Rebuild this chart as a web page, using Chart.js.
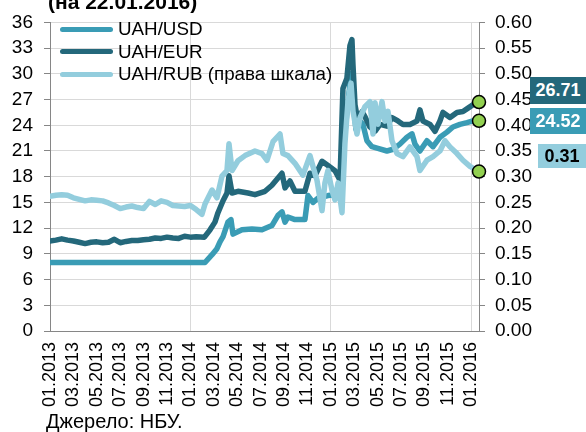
<!DOCTYPE html>
<html>
<head>
<meta charset="utf-8">
<script src="https://cdn.jsdelivr.net/npm/chart.js@4/dist/chart.umd.min.js"></script>
<style>
  body { margin: 0; background: #fff; }
  #wrap { position: relative; width: 586px; height: 432px; overflow: hidden; font-family: "Liberation Sans", Arial, sans-serif; color: #000; }
  #chart { position: absolute; left: 0; top: 0; }
  .title { position: absolute; left: 48px; top: -9px; font-size: 21px; font-weight: bold; line-height: 21px; white-space: nowrap; }
  .legend { position: absolute; left: 60px; top: 18px; font-size: 18.8px; line-height: 22.5px; }
  .legend div { display: flex; align-items: center; white-space: nowrap; }
  .legend span.swatch { display: inline-block; width: 53px; height: 5px; border-radius: 3px; margin-right: 5px; }
  .source { position: absolute; left: 46px; top: 410px; font-size: 20px; white-space: nowrap; }
  .tag { position: absolute; font-size: 18px; font-weight: bold; text-align: center; }
</style>
</head>
<body>
<div id="wrap">
  <canvas id="chart" width="586" height="432"></canvas>
  <div class="title">(на 22.01.2016)</div>
  <div class="legend" id="legend"></div>
  <div class="source">Джерело: НБУ.</div>
  <div class="tag" id="tag-eur" style="left:530px; top:77px; width:56px; height:27px; line-height:27px; background:#24687b; color:#fff;"></div>
  <div class="tag" id="tag-usd" style="left:530px; top:108px; width:56px; height:26px; line-height:26px; background:#3a9cb5; color:#fff;"></div>
  <div class="tag" id="tag-rub" style="left:538px; top:144px; width:48px; height:24px; line-height:24px; background:#93cddd; color:#000;"></div>
</div>
<script>
// x = months since 01.2013
const tickLabels = ['01.2013', '03.2013', '05.2013', '07.2013', '09.2013', '11.2013',
  '01.2014', '03.2014', '05.2014', '07.2014', '09.2014', '11.2014',
  '01.2015', '03.2015', '05.2015', '07.2015', '09.2015', '11.2015', '01.2016'];

const usd = [[0, 7.99], [3, 7.99], [6, 7.99], [9, 7.99], [12, 7.99], [13.25, 7.99], [13.85, 8.9], [14.27, 9.6],
  [14.53, 10.4], [14.79, 11.0], [15.21, 12.7], [15.47, 13.0], [15.64, 11.3], [16.41, 11.8], [17.26, 11.9],
  [18.12, 11.8], [18.97, 12.3], [19.49, 13.5], [19.83, 13.9], [20.09, 12.7], [20.34, 13.3], [20.94, 13.0],
  [21.79, 13.0], [22.05, 15.8], [22.48, 15.0], [22.91, 15.5], [23.76, 15.8], [24.36, 15.9], [24.87, 16.0],
  [25.13, 22.0], [25.38, 25.5], [25.73, 30.0], [25.9, 27.0], [26.15, 23.5], [26.5, 24.5], [26.75, 24.1],
  [27.09, 22.2], [27.52, 21.5], [28.03, 21.3], [28.8, 21.0], [29.32, 21.2], [29.91, 21.8], [30.51, 22.6],
  [30.94, 23.0], [31.2, 21.8], [31.62, 21.0], [32.22, 22.2], [32.74, 21.5], [33.33, 22.6], [33.93, 23.2],
  [34.44, 23.8], [35.04, 24.1], [35.64, 24.3], [36.15, 24.5], [36.67, 24.52]];

const eur = [[0, 10.5], [0.5, 10.6], [1, 10.75], [1.5, 10.6], [2, 10.5], [2.5, 10.35], [3, 10.2], [3.5, 10.35],
  [4, 10.4], [4.5, 10.3], [5, 10.35], [5.5, 10.7], [6, 10.3], [6.5, 10.45], [7, 10.55], [7.5, 10.55], [8, 10.65],
  [8.5, 10.7], [9, 10.85], [9.5, 10.8], [10, 10.95], [10.5, 10.85], [11, 10.8], [11.5, 11.05], [12, 10.95],
  [12.5, 11.0], [13.2, 10.95], [13.68, 11.8], [14.1, 12.7], [14.36, 13.8], [14.79, 15.2], [15.13, 16.1],
  [15.3, 18.1], [15.56, 16.1], [16.07, 16.3], [16.92, 16.1], [17.52, 15.9], [18.38, 16.3], [18.97, 17.0],
  [19.83, 18.4], [20.09, 16.7], [20.51, 17.5], [20.94, 16.3], [21.79, 16.3], [22.22, 18.4], [22.65, 18.1],
  [23.25, 19.8], [23.76, 19.3], [24.36, 18.7], [24.79, 17.6], [25.04, 28.3], [25.38, 29.5], [25.64, 33.3],
  [25.81, 34.0], [25.9, 31.0], [26.07, 26.4], [26.32, 24.5], [26.67, 25.6], [26.92, 25.0], [27.35, 23.8],
  [27.78, 23.3], [28.21, 24.1], [28.8, 23.9], [29.23, 24.9], [29.74, 24.5], [30.17, 24.1], [30.77, 24.1],
  [31.37, 24.5], [31.62, 25.8], [31.88, 24.5], [32.48, 24.1], [32.91, 23.3], [33.33, 24.5], [33.59, 25.5],
  [34.19, 24.9], [34.79, 25.5], [35.3, 25.6], [35.73, 26.0], [36.15, 26.4], [36.67, 26.71]];

const rub = [[0, 0.262], [0.5, 0.264], [1, 0.265], [1.5, 0.264], [2, 0.259], [2.5, 0.256], [3, 0.253], [3.5, 0.255],
  [4, 0.254], [4.5, 0.253], [5, 0.249], [5.5, 0.244], [6, 0.238], [6.5, 0.241], [7, 0.243], [7.5, 0.240],
  [8, 0.238], [8.5, 0.252], [9, 0.246], [9.5, 0.253], [10, 0.250], [10.5, 0.244], [11, 0.243], [11.5, 0.242],
  [12, 0.244], [12.5, 0.236], [12.99, 0.227], [13.25, 0.247], [13.85, 0.274], [14.27, 0.259], [14.7, 0.301],
  [15.13, 0.312], [15.3, 0.364], [15.56, 0.312], [16.07, 0.331], [16.67, 0.341], [17.52, 0.350], [18.12, 0.345],
  [18.55, 0.332], [19.06, 0.368], [19.66, 0.383], [19.91, 0.345], [20.34, 0.341], [20.94, 0.326], [21.62, 0.303],
  [22.22, 0.341], [22.48, 0.320], [22.82, 0.293], [23.25, 0.234], [23.5, 0.288], [23.76, 0.312], [24.1, 0.274],
  [24.36, 0.255], [24.62, 0.288], [24.96, 0.230], [25.21, 0.364], [25.47, 0.446], [25.73, 0.482], [25.9, 0.427],
  [26.24, 0.383], [26.5, 0.415], [26.92, 0.436], [27.35, 0.446], [27.61, 0.383], [27.78, 0.444], [28.03, 0.402],
  [28.38, 0.446], [28.63, 0.408], [28.89, 0.427], [29.23, 0.370], [29.66, 0.345], [30.17, 0.339], [30.77, 0.358],
  [31.37, 0.339], [31.62, 0.312], [32.22, 0.332], [32.74, 0.339], [33.33, 0.350], [33.76, 0.370], [34.19, 0.358],
  [34.79, 0.345], [35.3, 0.332], [35.9, 0.320], [36.67, 0.31]];

const colors = { usd: '#3a9cb5', eur: '#24687b', rub: '#93cddd' };
const legendNames = ['UAH/USD', 'UAH/EUR', 'UAH/RUB (права шкала)'];

const toPoints = arr => arr.map(p => ({ x: p[0], y: p[1] }));
const last = arr => arr[arr.length - 1];

function lineSet(label, arr, color, axis, order) {
  return {
    label: label,
    data: toPoints(arr),
    yAxisID: axis,
    borderColor: color,
    backgroundColor: color,
    borderWidth: 5.5,
    pointRadius: 0,
    tension: 0,
    borderJoinStyle: 'round',
    borderCapStyle: 'round',
    order: order
  };
}

function markerSet(arr, axis) {
  const p = last(arr);
  return {
    data: [{ x: p[0], y: p[1] }],
    yAxisID: axis,
    showLine: false,
    pointRadius: 6.5,
    pointBackgroundColor: '#92d050',
    pointBorderColor: '#000',
    pointBorderWidth: 1.5,
    clip: false,
    order: 0
  };
}

// legend + value tags
const legend = document.getElementById('legend');
[colors.usd, colors.eur, colors.rub].forEach((c, i) => {
  const row = document.createElement('div');
  row.innerHTML = `<span class="swatch" style="background:${c}"></span>${legendNames[i]}`;
  legend.appendChild(row);
});
document.getElementById('tag-eur').textContent = last(eur)[1].toFixed(2);
document.getElementById('tag-usd').textContent = last(usd)[1].toFixed(2);
document.getElementById('tag-rub').textContent = last(rub)[1].toFixed(2);

Chart.defaults.font.family = '"Liberation Sans", Arial, sans-serif';
Chart.defaults.font.size = 19;
Chart.defaults.color = '#000';

new Chart(document.getElementById('chart'), {
  type: 'line',
  data: {
    datasets: [
      lineSet(legendNames[0], usd, colors.usd, 'y', 3),
      lineSet(legendNames[1], eur, colors.eur, 'y', 2),
      lineSet(legendNames[2], rub, colors.rub, 'y1', 1),
      markerSet(eur, 'y'),
      markerSet(usd, 'y'),
      markerSet(rub, 'y1')
    ]
  },
  options: {
    responsive: false,
    animation: false,
    devicePixelRatio: 1,
    layout: { padding: { top: 16 } },
    plugins: { legend: { display: false }, tooltip: { enabled: false } },
    scales: {
      x: {
        type: 'linear',
        min: 0,
        max: 36.67,
        afterFit: s => { s.height = 101; },
        grid: {
          color: ctx => (ctx.tick && ctx.tick.value > 0 && ctx.tick.value % 12 === 0) ? '#d9d9d9' : 'rgba(0,0,0,0)',
          drawTicks: false
        },
        border: { color: '#868686', width: 1 },
        ticks: {
          font: { size: 18 },
          stepSize: 2,
          includeBounds: false,
          autoSkip: false,
          maxRotation: 90,
          minRotation: 90,
          padding: 11,
          callback: v => tickLabels[Math.round(v / 2)]
        }
      },
      y: {
        position: 'left',
        min: 0,
        max: 36,
        afterFit: s => { s.width = 50; },
        grid: { color: '#d9d9d9', tickColor: '#868686', tickLength: 6 },
        border: { color: '#868686', width: 1 },
        ticks: { stepSize: 3, padding: 11, autoSkip: false }
      },
      y1: {
        position: 'right',
        min: 0,
        max: 0.6,
        afterFit: s => { s.width = 107; },
        grid: { drawOnChartArea: false, tickColor: '#868686', tickLength: 6 },
        border: { color: '#868686', width: 1 },
        ticks: { stepSize: 0.05, padding: 10, autoSkip: false, callback: v => v.toFixed(2) }
      }
    }
  }
});
</script>
</body>
</html>
